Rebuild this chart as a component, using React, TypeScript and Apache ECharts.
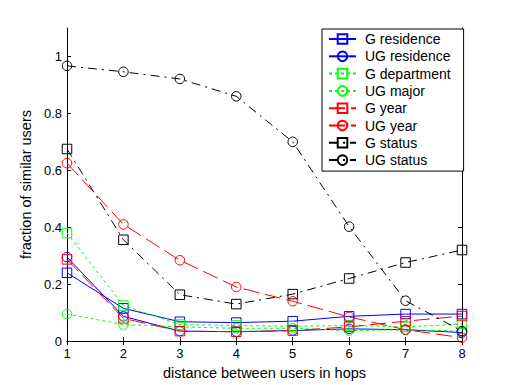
import React, { useEffect, useRef } from "react";
import * as echarts from "echarts";

const hops = [1, 2, 3, 4, 5, 6, 7, 8];
const gResidence = [0.24, 0.115, 0.068, 0.065, 0.07, 0.087, 0.095, 0.095];
const ugResidence = [0.295, 0.087, 0.035, 0.033, 0.037, 0.043, 0.04, 0.03];
const gDepartment = [0.38, 0.125, 0.058, 0.055, 0.052, 0.055, 0.05, 0.06];
const ugMajor = [0.095, 0.058, 0.05, 0.045, 0.045, 0.037, 0.04, 0.035];
const gYear = [0.287, 0.08, 0.035, 0.033, 0.037, 0.05, 0.07, 0.088];
const ugYear = [0.625, 0.41, 0.284, 0.19, 0.14, 0.085, 0.04, 0.012];
const gStatus = [0.675, 0.356, 0.163, 0.13, 0.165, 0.22, 0.276, 0.32];
const ugStatus = [0.967, 0.946, 0.921, 0.86, 0.7, 0.402, 0.142, 0.035];
const yTicks = [0, 0.2, 0.4, 0.6, 0.8, 1];

const FONT = 'Arial, "Liberation Sans", sans-serif';
const DASHDOT = [9, 5, 2, 5];
const DASHED = [16, 6];
const DOTTED = [3, 3];

const seriesDefs = [
  { name: "G residence", data: gResidence, color: "#0000ff", symbol: "rect", type: "solid" as any },
  { name: "UG residence", data: ugResidence, color: "#0000ff", symbol: "circle", type: "solid" as any },
  { name: "G department", data: gDepartment, color: "#00ff00", symbol: "rect", type: DOTTED as any },
  { name: "UG major", data: ugMajor, color: "#00ff00", symbol: "circle", type: DOTTED as any },
  { name: "G year", data: gYear, color: "#ff0000", symbol: "rect", type: DASHED as any },
  { name: "UG year", data: ugYear, color: "#ff0000", symbol: "circle", type: DASHED as any },
  { name: "G status", data: gStatus, color: "#000000", symbol: "rect", type: DASHDOT as any },
  { name: "UG status", data: ugStatus, color: "#000000", symbol: "circle", type: DASHDOT as any },
];

export default function App() {
  const ref = useRef<HTMLDivElement>(null);
  useEffect(() => {
    const chart = echarts.init(ref.current!, null, { renderer: "svg" });
    const axisLine = { show: true, lineStyle: { color: "#000", width: 1 } };
    const tick = { show: true, inside: true, length: 4, lineStyle: { color: "#000", width: 1 } };
    chart.setOption({
      animation: false,
      backgroundColor: "#fff",
      grid: { left: 67, right: 48, top: 28, bottom: 41, containLabel: false },
      legend: {
        orient: "vertical",
        left: 322,
        top: 29,
        itemWidth: 27,
        itemHeight: 12,
        itemGap: 3.3,
        padding: [3, 13, 4, 6],
        borderColor: "#000",
        borderWidth: 1,
        borderRadius: 0,
        backgroundColor: "#fff",
        textStyle: { fontSize: 14, lineHeight: 14, color: "#000", fontFamily: FONT, padding: [0, 0, 0, 4] },
        data: seriesDefs.map((s) => s.name),
      },
      xAxis: [
        {
          type: "value",
          min: 1,
          max: 8,
          interval: 1,
          position: "bottom",
          axisLine,
          axisTick: tick,
          splitLine: { show: false },
          axisLabel: { color: "#000", fontSize: 13, fontFamily: FONT, margin: 6 },
          name: "distance between users in hops",
          nameLocation: "middle",
          nameGap: 21,
          nameTextStyle: { color: "#000", fontSize: 14.5, fontFamily: FONT },
        },
        {
          type: "value",
          min: 1,
          max: 8,
          interval: 1,
          position: "top",
          axisLine,
          axisTick: tick,
          splitLine: { show: false },
          axisLabel: { show: false },
        },
      ],
      yAxis: [
        {
          type: "value",
          min: 0,
          max: 1.1,
          interval: 0.2,
          position: "left",
          axisLine,
          axisTick: { ...tick, customValues: yTicks },
          splitLine: { show: false },
          axisLabel: { color: "#000", fontSize: 13, fontFamily: FONT, margin: 5, customValues: yTicks },
          name: "fraction of similar users",
          nameLocation: "middle",
          nameRotate: 90,
          nameGap: 34,
          nameTextStyle: { color: "#000", fontSize: 14.5, fontFamily: FONT },
        },
        {
          type: "value",
          min: 0,
          max: 1.1,
          interval: 0.2,
          position: "right",
          axisLine,
          axisTick: { ...tick, customValues: yTicks },
          splitLine: { show: false },
          axisLabel: { show: false },
        },
      ],
      series: seriesDefs.map((s) => ({
        name: s.name,
        type: "line",
        xAxisIndex: 0,
        yAxisIndex: 0,
        data: hops.map((h, i) => [h, s.data[i]]),
        symbol: s.symbol,
        symbolSize: 9.5,
        showAllSymbol: true,
        clip: false,
        itemStyle: { color: "rgba(0,0,0,0)", borderColor: s.color, borderWidth: 1 },
        lineStyle: { color: s.color, width: 1, type: s.type },
        emphasis: { disabled: true },
      })),
    });
    return () => chart.dispose();
  }, []);
  return (
    <div
      ref={ref}
      style={{ position: "absolute", left: 0, top: 0, width: 510, height: 385, background: "#fff" }}
    />
  );
}
